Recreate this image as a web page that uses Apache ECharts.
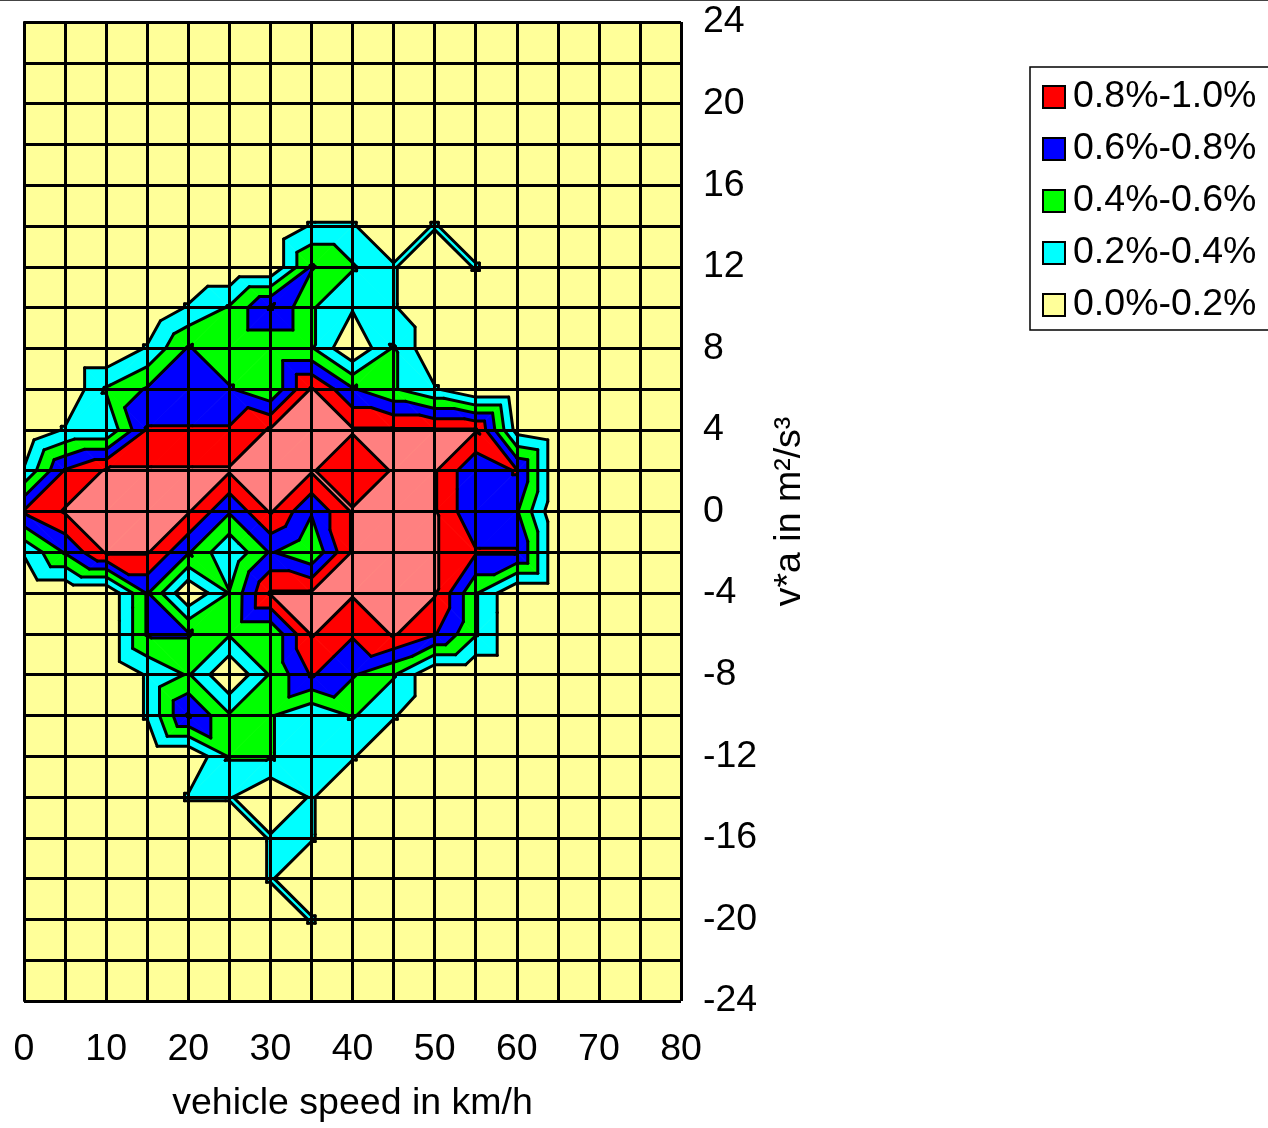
<!DOCTYPE html>
<html><head><meta charset="utf-8">
<script src="https://cdn.jsdelivr.net/npm/echarts@6/dist/echarts.min.js"></script>
<style>html,body{margin:0;padding:0;background:#fff}#c{width:1268px;height:1128px}</style>
</head><body><div id="c"></div>
<script>
// vehicle speed grid (km/h)
const speeds = [0,5,10,15,20,25,30,35,40,45,50,55,60,65,70,75,80];
// v*a grid (m²/s³), listed top row first
const vaRows = [24,22,20,18,16,14,12,10,8,6,4,2,0,-2,-4,-6,-8,-10,-12,-14,-16,-18,-20,-22,-24];
// share of time (%) at each grid point, one list per v*a row (top row first), columns follow speeds
const share = [
 [0,0,0,0,0,0,0,0,0,0,0,0,0,0,0,0,0],
 [0,0,0,0,0,0,0,0,0,0,0,0,0,0,0,0,0],
 [0,0,0,0,0,0,0,0,0,0,0,0,0,0,0,0,0],
 [0,0,0,0,0,0,0,0,0,0,0,0,0,0,0,0,0],
 [0,0,0,0,0,0,0,0,0,0,0,0,0,0,0,0,0],
 [0,0,0,0,0,0,0,.22,.22,0,.22,0,0,0,0,0,0],
 [0,0,0,0,0,0,0,.62,.42,.22,0,.22,0,0,0,0,0],
 [0,0,0,0,.22,.42,.82,.42,.22,.22,0,0,0,0,0,0,0],
 [0,0,0,.22,.62,.42,.42,.42,0,.42,0,0,0,0,0,0,0],
 [0,0,.42,.62,.62,.62,.42,1.02,.62,.42,.22,0,0,0,0,0,0],
 [0,.22,.22,.82,.82,.82,1.02,1.02,1.02,1.02,1.02,1.02,.12,0,0,0,0],
 [.22,.82,1.02,1.02,1.02,1.02,1.02,1.02,.82,1.02,1.02,.62,.82,0,0,0,0],
 [.82,1.02,1.02,1.02,1.02,.62,1.02,.62,1.02,1.02,1.02,.62,.62,0,0,0,0],
 [.22,.62,1.02,1.02,.62,.22,.62,.42,1.02,1.02,1.02,.82,.82,0,0,0,0],
 [0,0,0,.62,0,.41,1.02,1.02,1.02,1.02,1.02,.42,0,0,0,0,0],
 [0,0,0,.62,.62,.42,.42,1.02,.82,1.02,.82,.42,0,0,0,0,0],
 [0,0,0,.22,.42,0,.42,.82,.62,.42,0,0,0,0,0,0,0],
 [0,0,0,.22,.82,.42,.42,.22,.42,.22,0,0,0,0,0,0,0],
 [0,0,0,0,0,.42,.42,.22,.22,0,0,0,0,0,0,0,0],
 [0,0,0,0,.22,.22,0,.22,0,0,0,0,0,0,0,0,0],
 [0,0,0,0,0,0,.22,.22,0,0,0,0,0,0,0,0,0],
 [0,0,0,0,0,0,.22,0,0,0,0,0,0,0,0,0,0],
 [0,0,0,0,0,0,0,.22,0,0,0,0,0,0,0,0,0],
 [0,0,0,0,0,0,0,0,0,0,0,0,0,0,0,0,0],
 [0,0,0,0,0,0,0,0,0,0,0,0,0,0,0,0,0]
];
// contour levels (%) and band colours (lowest band first)
const levels = [0.2,0.4,0.6,0.8,1.0];
const bandColors = ['#FFFF99','#00FFFF','#00FF00','#0000FF','#FF0000','#FF8080'];
const legendNames = ['0.8%-1.0%','0.6%-0.8%','0.4%-0.6%','0.2%-0.4%','0.0%-0.2%'];
const legendColors = ['#FF0000','#0000FF','#00FF00','#00FFFF','#FFFF99'];
const xTickLabels = [0,10,20,30,40,50,60,70,80];
const yTickLabels = [24,20,16,12,8,4,0,-4,-8,-12,-16,-20,-24];

const FONT = '"Liberation Sans", Arial, sans-serif';

const cells = [];
for (let r = 0; r < vaRows.length - 1; r++)
  for (let c = 0; c < speeds.length - 1; c++) cells.push([speeds[c], vaRows[r], c, r]);

function clipPoly(poly, level, keepAbove) {
  const out = [];
  for (let k = 0; k < poly.length; k++) {
    const a = poly[k], b = poly[(k + 1) % poly.length];
    const ina = keepAbove ? a[2] >= level : a[2] < level;
    const inb = keepAbove ? b[2] >= level : b[2] < level;
    if (ina) out.push(a);
    if (ina !== inb) {
      const t = (level - a[2]) / (b[2] - a[2]);
      out.push([a[0] + t * (b[0] - a[0]), a[1] + t * (b[1] - a[1]), level]);
    }
  }
  return out;
}
function isoSeg(tri, L) {
  const pts = [];
  for (let k = 0; k < 3; k++) {
    const a = tri[k], b = tri[(k + 1) % 3];
    if ((a[2] - L) * (b[2] - L) < 0) {
      const t = (L - a[2]) / (b[2] - a[2]);
      pts.push([a[0] + t * (b[0] - a[0]), a[1] + t * (b[1] - a[1])]);
    }
  }
  return pts.length === 2 ? pts : null;
}

function renderCell(params, api) {
  const c = api.value(2), r = api.value(3);
  const P = (cc, rr) => { const p = api.coord([speeds[cc], vaRows[rr]]); return [p[0], p[1], share[rr][cc]]; };
  const tl = P(c, r), tr = P(c + 1, r), bl = P(c, r + 1), br = P(c + 1, r + 1);
  let tris;
  if (bl[2] + tr[2] >= tl[2] + br[2]) tris = [[bl, br, tr], [bl, tr, tl]];
  else tris = [[bl, br, tl], [br, tr, tl]];
  const children = [];
  for (const tri of tris) {
    for (let b = 1; b < bandColors.length; b++) {
      let poly = clipPoly(tri, levels[b - 1], true);
      if (b < levels.length && poly.length) poly = clipPoly(poly, levels[b], false);
      if (poly.length >= 3) children.push({
        type: 'polygon', shape: { points: poly.map(p => [p[0], p[1]]) },
        style: { fill: bandColors[b], stroke: bandColors[b], lineWidth: 0.8 }
      });
    }
  }
  for (const tri of tris) for (const L of levels) {
    const s = isoSeg(tri, L);
    if (s) children.push({ type: 'line', shape: { x1: s[0][0], y1: s[0][1], x2: s[1][0], y2: s[1][1] },
      style: { stroke: '#000', lineWidth: 3, lineCap: 'round' }, z2: 10 });
  }
  return { type: 'group', children };
}

const chart = echarts.init(document.getElementById('c'), null, { renderer: 'canvas' });
const series = [{
  type: 'custom', name: 'contour', coordinateSystem: 'cartesian2d', renderItem: renderCell,
  data: cells, z: 2, silent: true, animation: false, clip: true
}];
legendNames.forEach((n, k) => series.push({ type: 'custom', name: n, data: [], renderItem: () => null, itemStyle: { color: legendColors[k] } }));

chart.setOption({
  animation: false,
  backgroundColor: '#fff',
  textStyle: { fontFamily: FONT },
  grid: { left: 24, right: 587, top: 22, bottom: 120, show: true, backgroundColor: '#FFFF99', borderWidth: 0 },
  xAxis: {
    type: 'value', min: 0, max: 80, interval: 5, z: 5,
    axisLine: { show: true, lineStyle: { color: '#000', width: 2 } },
    axisTick: { show: true, length: 14, lineStyle: { color: '#000', width: 2 } },
    splitLine: { show: true, lineStyle: { color: '#000', width: 3 } },
    axisLabel: { fontSize: 37.5, color: '#000', margin: 30, fontFamily: FONT,
      formatter: v => xTickLabels.indexOf(v) >= 0 ? String(v) : '' },
    name: 'vehicle speed in km/h', nameLocation: 'middle', nameGap: 84,
    nameTextStyle: { fontSize: 37.5, color: '#000', fontFamily: FONT }
  },
  yAxis: {
    type: 'value', min: -24, max: 24, interval: 2, position: 'right', z: 5,
    axisLine: { show: true, lineStyle: { color: '#000', width: 2 } },
    axisTick: { show: true, length: 14, lineStyle: { color: '#000', width: 2 } },
    splitLine: { show: true, lineStyle: { color: '#000', width: 3 } },
    axisLabel: { fontSize: 37.5, color: '#000', margin: 22, fontFamily: FONT,
      formatter: v => yTickLabels.indexOf(v) >= 0 ? String(v) : '' },
    name: 'v*a in m²/s³', nameLocation: 'middle', nameGap: 90, nameRotate: 90,
    nameTextStyle: { fontSize: 37.5, color: '#000', fontFamily: FONT }
  },
  legend: {
    show: true, orient: 'vertical', left: 1030, top: 67, icon: 'rect',
    itemWidth: 22, itemHeight: 22, itemGap: 14, padding: [11, 14, 6, 12],
    borderColor: '#000', borderWidth: 1.5, backgroundColor: '#fff',
    itemStyle: { borderColor: '#000', borderWidth: 2 },
    textStyle: { fontSize: 37.5, color: '#000', fontFamily: FONT, padding: [0, 0, 0, 3] },
    data: legendNames.map((n, k) => ({ name: n, itemStyle: { color: legendColors[k], borderColor: '#000', borderWidth: 2 } })),
    selectedMode: false
  },
  graphic: [{ type: 'line', shape: { x1: 0, y1: 0.5, x2: 1268, y2: 0.5 }, style: { stroke: '#444', lineWidth: 1 } }],
  series
});
</script></body></html>
